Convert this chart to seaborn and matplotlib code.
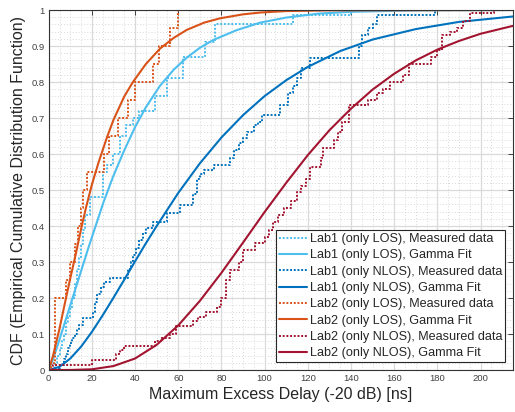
import matplotlib
matplotlib.use("Agg")
import matplotlib.pyplot as plt
from matplotlib.ticker import MultipleLocator
import pandas as pd
import seaborn as sns

# Measured data (empirical CDF, drawn as stairs)
lab1_los_meas_x = [0, 3, 4, 5, 6, 7, 8, 9, 10, 11, 12, 13, 14, 15, 16, 17, 19, 25, 27, 30,
                   33, 36, 39, 42, 49, 55, 62, 72.5, 77, 113, 140]
lab1_los_meas_y = [0, 0.02, 0.04, 0.06, 0.08, 0.1, 0.13, 0.15, 0.17, 0.2, 0.24, 0.28, 0.31, 0.35,
                   0.39, 0.43, 0.48, 0.55, 0.57, 0.6, 0.65, 0.68, 0.7, 0.72, 0.76, 0.81, 0.87,
                   0.91, 0.96, 0.985, 1.0]

lab1_nlos_meas_x = [0, 3, 5, 7, 8, 9, 10, 11, 12, 13, 14, 16, 20.6, 21.5, 22.5, 24, 25.5, 28.4,
                    36.8, 38, 39, 40.5, 42, 43.5, 45, 48.5, 55, 61, 67, 68.5, 70, 72, 76.5, 84,
                    86, 88, 90, 92, 95, 97, 98.7, 107, 111, 113, 115, 117, 121, 143.5, 145, 148,
                    150, 152, 179]
lab1_nlos_meas_y = [0, 0.005, 0.015, 0.03, 0.045, 0.06, 0.075, 0.09, 0.1, 0.115, 0.125, 0.144,
                    0.16, 0.19, 0.21, 0.23, 0.245, 0.256, 0.28, 0.3, 0.32, 0.34, 0.36, 0.38,
                    0.395, 0.41, 0.435, 0.458, 0.49, 0.53, 0.545, 0.555, 0.57, 0.59, 0.61, 0.63,
                    0.645, 0.66, 0.68, 0.69, 0.708, 0.736, 0.77, 0.79, 0.81, 0.84, 0.866, 0.9,
                    0.93, 0.95, 0.96, 0.986, 1.0]

lab2_los_meas_x = [0, 1, 3, 8, 10, 12, 13.5, 15, 16, 17.6, 25.6, 28, 32, 36.8, 40, 48.4, 51, 56, 60]
lab2_los_meas_y = [0, 0.02, 0.2, 0.25, 0.3, 0.35, 0.4, 0.45, 0.5, 0.55, 0.6, 0.65, 0.7, 0.75,
                   0.8, 0.85, 0.9, 0.95, 1.0]

lab2_nlos_meas_x = [0, 2, 20, 31, 33, 35, 49, 52, 56, 59, 67, 69, 73, 78, 80, 82, 84, 88, 90,
                    95.6, 100, 102, 104, 106, 109, 112, 115, 117, 119, 121, 126, 127, 132, 134,
                    136, 139, 148, 152, 155, 158, 164, 167, 177, 180, 182, 186, 189, 192, 195, 206]
lab2_nlos_meas_y = [0, 0.015, 0.028, 0.045, 0.055, 0.068, 0.08, 0.09, 0.1, 0.122, 0.135, 0.148,
                    0.162, 0.175, 0.2, 0.25, 0.278, 0.3, 0.333, 0.352, 0.37, 0.39, 0.41, 0.43,
                    0.45, 0.47, 0.495, 0.51, 0.53, 0.565, 0.59, 0.616, 0.64, 0.66, 0.69, 0.736,
                    0.75, 0.77, 0.78, 0.8, 0.82, 0.85, 0.87, 0.89, 0.93, 0.94, 0.95, 0.97, 0.993, 1.0]

# Gamma fit curves
lab1_los_fit_x = [0, 2, 5, 10, 15, 18.4, 22, 25.3, 30, 34.6, 40, 45, 51.6, 58, 64, 70, 76.3, 87,
                  98, 110, 125, 140, 170, 215]
lab1_los_fit_y = [0, 0.03, 0.085, 0.18, 0.275, 0.34, 0.405, 0.465, 0.54, 0.605, 0.675, 0.73,
                  0.79, 0.835, 0.868, 0.895, 0.917, 0.944, 0.965, 0.979, 0.99, 0.995, 0.999, 1.0]

lab1_nlos_fit_x = [0, 5, 10, 15, 20, 25, 30, 35, 40, 45, 50, 60, 70, 80, 90, 100, 110, 120, 135,
                   150, 170, 190, 215]
lab1_nlos_fit_y = [0, 0.009, 0.032, 0.065, 0.106, 0.152, 0.201, 0.251, 0.302, 0.352, 0.4, 0.492,
                   0.574, 0.646, 0.708, 0.761, 0.805, 0.842, 0.886, 0.918, 0.947, 0.967, 0.982]

lab2_los_fit_x = [0, 2, 5, 8, 10, 13, 15, 17.3, 20, 23, 26.9, 30, 35, 39, 45, 51.6, 58, 64, 72,
                  79.4, 90, 98, 110, 130, 215]
lab2_los_fit_y = [0, 0.04, 0.115, 0.2, 0.255, 0.335, 0.392, 0.452, 0.515, 0.575, 0.645, 0.695,
                  0.76, 0.8, 0.85, 0.893, 0.923, 0.945, 0.965, 0.977, 0.988, 0.993, 0.997, 0.999, 1.0]

lab2_nlos_fit_x = [0, 10, 20, 30, 40, 50, 60, 70, 80, 90, 100, 110, 120, 130, 140, 150, 160, 170,
                   180, 190, 200, 215]
lab2_nlos_fit_y = [0, 0.0002, 0.002, 0.011, 0.032, 0.07, 0.124, 0.192, 0.27, 0.354, 0.439, 0.52,
                   0.597, 0.666, 0.726, 0.779, 0.823, 0.86, 0.89, 0.914, 0.934, 0.956]

labels = ["Lab1 (only LOS), Measured data", "Lab1 (only LOS), Gamma Fit",
          "Lab1 (only NLOS), Measured data", "Lab1 (only NLOS), Gamma Fit",
          "Lab2 (only LOS), Measured data", "Lab2 (only LOS), Gamma Fit",
          "Lab2 (only NLOS), Measured data", "Lab2 (only NLOS), Gamma Fit"]
colors = ["#4DBEEE", "#4DBEEE", "#0072BD", "#0072BD", "#D95319", "#D95319", "#A2142F", "#A2142F"]

x_ticks = [0, 20, 40, 60, 80, 100, 120, 140, 160, 180, 200]
y_ticks = [0, 0.1, 0.2, 0.3, 0.4, 0.5, 0.6, 0.7, 0.8, 0.9, 1.0]
y_tick_labels = ["0", "0.1", "0.2", "0.3", "0.4", "0.5", "0.6", "0.7", "0.8", "0.9", "1"]

sns.set_theme(style="white")
plt.rcParams['font.family'] = ['Liberation Sans', 'DejaVu Sans']

fig = plt.figure(figsize=(5.15, 4.12), dpi=100)
ax = fig.add_axes([0.0946, 0.1019, 0.9014, 0.8738])

series = [
    (lab1_los_meas_x, lab1_los_meas_y, True),
    (lab1_los_fit_x, lab1_los_fit_y, False),
    (lab1_nlos_meas_x, lab1_nlos_meas_y, True),
    (lab1_nlos_fit_x, lab1_nlos_fit_y, False),
    (lab2_los_meas_x, lab2_los_meas_y, True),
    (lab2_los_fit_x, lab2_los_fit_y, False),
    (lab2_nlos_meas_x, lab2_nlos_meas_y, True),
    (lab2_nlos_fit_x, lab2_nlos_fit_y, False),
]

for (xs, ys, measured), label, color in zip(series, labels, colors):
    df = pd.DataFrame({"x": xs, "y": ys})
    sns.lineplot(data=df, x="x", y="y", ax=ax, color=color, label=label,
                 estimator=None, sort=False,
                 linestyle=(0, (1, 0.9)) if measured else "-",
                 linewidth=1.4 if measured else 1.5,
                 drawstyle="steps-post" if measured else "default")

ax.set_xlim(0, 215)
ax.set_ylim(0, 1)
ax.set_xticks(x_ticks)
ax.set_yticks(y_ticks)
ax.set_yticklabels(y_tick_labels)
ax.xaxis.set_minor_locator(MultipleLocator(5))
ax.yaxis.set_minor_locator(MultipleLocator(0.02))

ax.grid(which='major', color='#dadada', linewidth=0.9, linestyle='-')
ax.grid(which='minor', color='#cccccc', linewidth=0.6, linestyle=(0, (1, 2.5)))
ax.set_axisbelow(True)

ax.tick_params(which='both', direction='in', top=True, right=True)
ax.tick_params(which='minor', length=0)
ax.tick_params(which='major', length=3.5, width=0.7, color='#404040',
               labelsize=6.8, labelcolor='#404040', pad=3)
for sp in ax.spines.values():
    sp.set_color('#333333')
    sp.set_linewidth(0.8)

ax.set_xlabel("Maximum Excess Delay (-20 dB) [ns]", fontsize=11.5, color='#262626', labelpad=3)
ax.set_ylabel("CDF (Empirical Cumulative Distribution Function)", fontsize=11.5,
              color='#262626', labelpad=4)

leg = ax.legend(loc='lower right', fontsize=9.1, frameon=True, fancybox=False,
                framealpha=1, edgecolor='#262626', handlelength=2.2,
                labelspacing=0.34, borderpad=0.25, handletextpad=0.2, borderaxespad=0.6)
leg.get_frame().set_linewidth(0.8)
for t in leg.get_texts():
    t.set_color('#262626')

fig.savefig("out.png", dpi=100)
